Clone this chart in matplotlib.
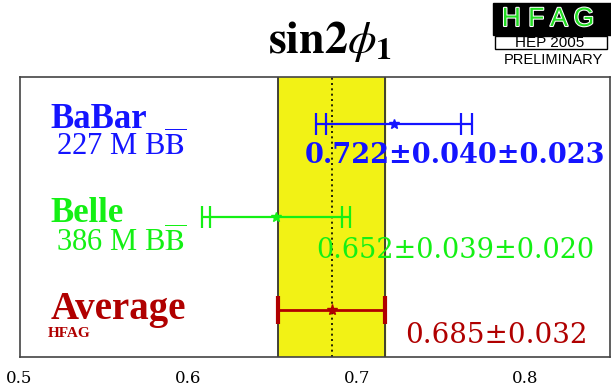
'''
sin2phi1 world average plot (HFAG, HEP 2005 style)
'''

import numpy as np
from matplotlib import pyplot as plt
from matplotlib.patches import Rectangle
import matplotlib.patheffects as pe

plt.rcParams['font.family'] = 'Liberation Serif'
plt.rcParams['mathtext.fontset'] = 'stix'

# measurements
experiments = ['BaBar', 'Belle']
n_bb = ['227 M', '386 M']
values = [0.722, 0.652]
stat_err = [0.040, 0.039]
syst_err = [0.023, 0.020]
colors = ['#1414ff', '#14f014']

# average
avg_value = 0.685
avg_err = 0.032
avg_color = '#b00000'

xticks = [0.5, 0.6, 0.7, 0.8]
xtick_labels = ['0.5', '0.6', '0.7', '0.8']


def main():
    fig = plt.figure(figsize=(6.11, 3.89), dpi=100)
    ax = fig.add_axes([0.032, 0.082, 0.966, 0.72])
    ax.set_xlim(0.5, 0.85)
    ax.set_ylim(0.5, 3.5)

    # yellow band for the average
    lo, hi = avg_value - avg_err, avg_value + avg_err
    ax.axvspan(lo, hi, color='#f2f215', zorder=1)
    ax.axvline(lo, color='#333333', lw=1.3, zorder=2)
    ax.axvline(hi, color='#333333', lw=1.3, zorder=2)
    ax.axvline(avg_value, color='black', lw=1.2, ls=(0, (1.2, 2)), zorder=2)

    # experiments, stat error inner ticks and total error outer ticks
    text_y = [0.693, 0.354]
    label_y = [0.818, 0.482]
    sub_y = [0.721, 0.375]
    for i in range(len(experiments)):
        y = 3 - i
        v = values[i]
        tot = np.sqrt(stat_err[i] ** 2 + syst_err[i] ** 2)
        c = colors[i]
        ax.hlines(y, v - tot, v + tot, color=c, lw=1.6, zorder=3)
        ax.plot([v - tot, v - stat_err[i], v + stat_err[i], v + tot], [y] * 4,
                ls='none', marker='|', ms=16, mew=1.6, color=c, zorder=3)
        ax.plot(v, y, marker='*', ms=7, color=c, zorder=4)

        ax.text(0.052, label_y[i], experiments[i], transform=ax.transAxes,
                color=c, fontsize=25, fontweight='bold', va='baseline')
        ax.text(0.062, sub_y[i], n_bb[i] + r' B$\overline{\mathrm{B}}$',
                transform=ax.transAxes, color=c, fontsize=22, va='baseline')
        txt = '%.3f±%.3f±%.3f' % (v, stat_err[i], syst_err[i])
        ax.text(0.738, text_y[i], txt, transform=ax.transAxes, color=c,
                fontsize=19.5, family='DejaVu Serif', ha='center', va='baseline',
                fontweight='bold' if i == 0 else 'normal', zorder=5)

    # average
    ax.hlines(1, lo, hi, color=avg_color, lw=2, zorder=3)
    ax.plot([lo, hi], [1, 1], ls='none', marker='|', ms=20, mew=3,
            color=avg_color, zorder=3)
    ax.plot(avg_value, 1, marker='*', ms=8, color=avg_color, zorder=4)
    ax.text(0.052, 0.135, 'Average', transform=ax.transAxes, color=avg_color,
            fontsize=28, fontweight='bold', va='baseline')
    ax.text(0.047, 0.072, 'HFAG', transform=ax.transAxes, color=avg_color,
            fontsize=11, fontweight='bold', va='baseline')
    ax.text(0.808, 0.05, '%.3f±%.3f' % (avg_value, avg_err),
            transform=ax.transAxes, color=avg_color, fontsize=20,
            family='DejaVu Serif', ha='center', va='baseline', zorder=5)

    # axis config
    ax.set_yticks([])
    ax.set_xticks(xticks, xtick_labels)
    ax.tick_params(axis='x', length=0, pad=9, labelsize=12)
    for lab in ax.get_xticklabels():
        lab.set_family('DejaVu Serif')
    for s in ax.spines.values():
        s.set_color('#444444')
        s.set_linewidth(1.2)

    # title
    fig.text(330 / 611, 1 - 53 / 389, r'$\mathbf{sin2}\phi_{\mathbf{1}}$',
             ha='center', va='baseline', fontsize=33)

    # HFAG logo
    fig.add_artist(Rectangle((493 / 611, 1 - 35 / 389), 118 / 611, 32 / 389,
                             transform=fig.transFigure, color='black'))
    fig.text(548 / 611, 1 - 19 / 389, 'H F A G', ha='center', va='center',
             family='Liberation Sans', fontsize=19, color='#22dd22',
             path_effects=[pe.withStroke(linewidth=1.5, foreground='white')])
    fig.add_artist(Rectangle((495 / 611, 1 - 49 / 389), 112 / 611, 13 / 389,
                             transform=fig.transFigure, facecolor='white',
                             edgecolor='black', lw=1))
    fig.text(550 / 611, 1 - 43 / 389, 'HEP 2005', ha='center', va='center',
             family='Liberation Sans', fontsize=11)
    fig.text(553 / 611, 1 - 60 / 389, 'PRELIMINARY', ha='center', va='center',
             family='Liberation Sans', fontsize=10.5)

    fig.savefig('out.png', dpi=100)


if __name__ == "__main__":
    main()
